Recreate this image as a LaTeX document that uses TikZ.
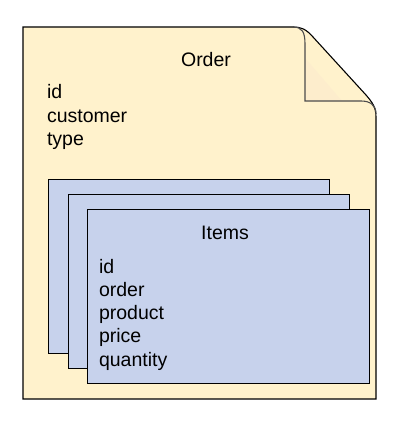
\documentclass[tikz,border=0pt]{standalone}
\usepackage{fontspec}
\setmainfont{Liberation Sans}
\usetikzlibrary{positioning}
\definecolor{notefill}{HTML}{FFF2CC}
\definecolor{foldshade}{HTML}{FDEDCC}
\definecolor{itemfill}{HTML}{C7D2EC}
\tikzset{
    field/.style = {inner sep=0pt, outer sep=0pt, text height=14pt, text depth=5pt,
        font=\fontsize{19.5}{23.5}\selectfont},
    title/.style = {inner sep=0pt, anchor=base, font=\fontsize{19.5}{23.5}\selectfont},
    card/.style = {draw, fill=itemfill, line width=1pt, anchor=north west,
        minimum width=281pt, minimum height=174pt, inner sep=0pt, outer sep=0pt},
    next/.style = {below=4.3pt of #1.south west, anchor=north west}
}

\begin{document}
\begin{tikzpicture}[x=1pt,y=-1pt]
        \useasboundingbox (0,0) rectangle (413,422);
        % the order document with its curled corner
        \draw[fill=notefill, line width=1.1pt] (23,27) -- (293,27)
            .. controls (301,27) and (306,29) .. (313,37) -- (366,95)
            .. controls (372,102) and (376,107) .. (376,117) -- (376,399) -- (23,399) -- cycle;
        \fill[foldshade] (305,58) -- (305,101) -- (342,101) -- cycle;
        \draw[line width=1.1pt, draw=black!70] (293,27) .. controls (302,27) and (305,32) .. (305,44)
            -- (305,101) -- (361,101) .. controls (370,101) and (376,105) .. (376,114);
        \node[title] (order) at (206,66.7) {Order};
        \node[field, anchor=base west] (oid) at (47,99) {id};
        \node[field, next=oid] (customer) {customer};
        \node[field, next=customer] (type) {type};
        % stacked item cards
        \node[card] (card1) at (48,179) {};
        \node[card] (card2) at (68,194) {};
        \node[card, minimum width=282pt] (card3) at (87,209) {};
        \node[title] (items) at (225,239) {Items};
        \node[field, anchor=base west] (iid) at (99,273) {id};
        \node[field, next=iid] (iorder) {order};
        \node[field, next=iorder] (product) {product};
        \node[field, next=product] (price) {price};
        \node[field, next=price] (quantity) {quantity};
    \end{tikzpicture}
\end{document}
